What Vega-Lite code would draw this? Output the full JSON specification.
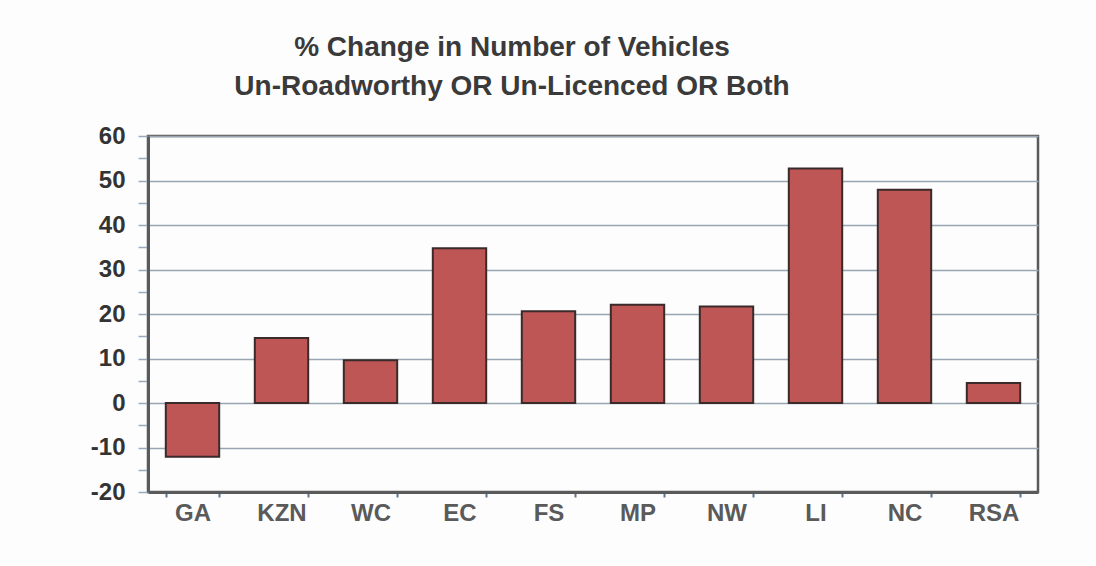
{
  "$schema": "https://vega.github.io/schema/vega-lite/v6.json",
  "width": 890,
  "height": 356,
  "autosize": "none",
  "padding": {"left": 148, "top": 136, "right": 58, "bottom": 74},
  "background": "#fdfdfd",
  "title": {
    "text": ["% Change in Number of Vehicles", "Un-Roadworthy OR Un-Licenced OR Both"],
    "font": "Liberation Sans",
    "fontSize": 28,
    "fontWeight": "bold",
    "color": "#3a3a3a",
    "lineHeight": 39,
    "anchor": "middle",
    "dx": -81,
    "offset": 23
  },
  "data": {
    "values": [
      {"region": "GA", "change": -12.1},
      {"region": "KZN", "change": 14.6},
      {"region": "WC", "change": 9.6},
      {"region": "EC", "change": 34.8},
      {"region": "FS", "change": 20.6},
      {"region": "MP", "change": 22.1},
      {"region": "NW", "change": 21.7},
      {"region": "LI", "change": 52.7},
      {"region": "NC", "change": 47.9},
      {"region": "RSA", "change": 4.5}
    ]
  },
  "mark": {"type": "bar", "color": "#bd5654", "stroke": "#3a2a2a", "strokeWidth": 2},
  "encoding": {
    "x": {
      "field": "region",
      "type": "nominal",
      "sort": null,
      "scale": {"paddingInner": 0.4, "paddingOuter": 0.2},
      "axis": {
        "title": null,
        "labelAngle": 0,
        "labelFont": "Liberation Sans",
        "labelFontSize": 24,
        "labelFontWeight": "bold",
        "labelColor": "#5a5a5a",
        "labelPadding": 4,
        "tickBand": "extent",
        "tickColor": "#5b7590",
        "tickWidth": 2,
        "tickSize": 5,
        "domainColor": "#5a5a5a",
        "domainWidth": 3,
        "grid": false
      }
    },
    "y": {
      "field": "change",
      "type": "quantitative",
      "scale": {"domain": [-20, 60], "nice": false, "zero": false},
      "axis": {
        "title": null,
        "values": [-20, -15, -10, -5, 0, 5, 10, 15, 20, 25, 30, 35, 40, 45, 50, 55, 60],
        "labelExpr": "datum.value % 10 == 0 ? toString(datum.value) : ''",
        "labelFont": "Liberation Sans",
        "labelFontSize": 24,
        "labelFontWeight": "bold",
        "labelColor": "#333333",
        "labelPadding": 13,
        "tickSize": 10,
        "tickColor": "#9aaabb",
        "tickWidth": 1.5,
        "domainColor": "#5a5a5a",
        "domainWidth": 3,
        "grid": true,
        "gridColor": "#98a6b4",
        "gridWidth": 1.5,
        "gridOpacity": {"condition": {"test": "datum.value % 10 != 0", "value": 0}, "value": 1}
      }
    }
  },
  "config": {
    "view": {"stroke": "#5a5a5a", "strokeWidth": 2.5}
  }
}
